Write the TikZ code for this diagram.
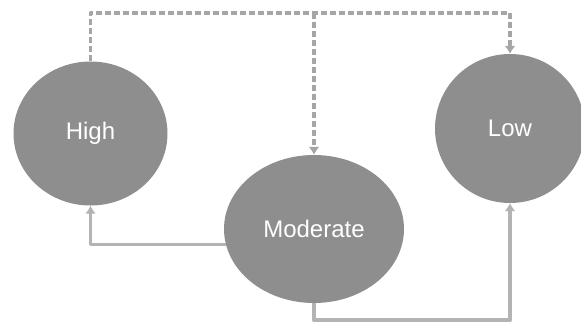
\documentclass[tikz,border=0pt]{standalone}
\usepackage{fontspec}
\setsansfont{Liberation Sans}
\usetikzlibrary{shapes.geometric,arrows.meta}

\definecolor{levelfill}{HTML}{8E8E8E}
\definecolor{linkgray}{HTML}{B3B3B3}
\definecolor{dashgray}{HTML}{A6A6A6}

\begin{document}
\begin{tikzpicture}[
  x=1pt,
  y=-1pt,
  line join=round,
  level/.style={ellipse,fill=levelfill,inner sep=0pt,text=white,
    font=\sffamily\fontsize{24}{27}\selectfont},
  solidedge/.style={draw=linkgray,line width=3.8pt,
    -{Latex[length=8pt,width=11pt]}},
  dashedge/.style={draw=dashgray,line width=3.2pt,dash pattern=on 6pt off 3pt,
    -{Latex[length=8pt,width=11pt]}}
]
  % Match the artwork frame of the source image.
  \useasboundingbox (0,0) rectangle (581,325);

  % The three levels, slightly wider than tall as in the artwork.
  \node[level,minimum width=154pt,minimum height=144pt] (high) at (90.5,133.5) {High};
  \node[level,minimum width=180pt,minimum height=148pt] (moderate) at (314,229) {Moderate};
  \node[level,minimum width=150pt,minimum height=149pt] (low) at (510,128.5) {Low};

  % Dashed bar along the top, branching down to Moderate and Low.
  \coordinate (topbar) at (0,13);
  \draw[dashedge] (high.north) -- (high.north |- topbar) -| (low.north);
  \draw[dashedge] (moderate.north |- topbar) -- (moderate.north);

  % Solid returns from Moderate back up to High and Low.
  \draw[solidedge] (moderate.190) -| (high.south);
  \draw[solidedge] (moderate.south) -- ++(0,17) -| (low.south);
\end{tikzpicture}
\end{document}
